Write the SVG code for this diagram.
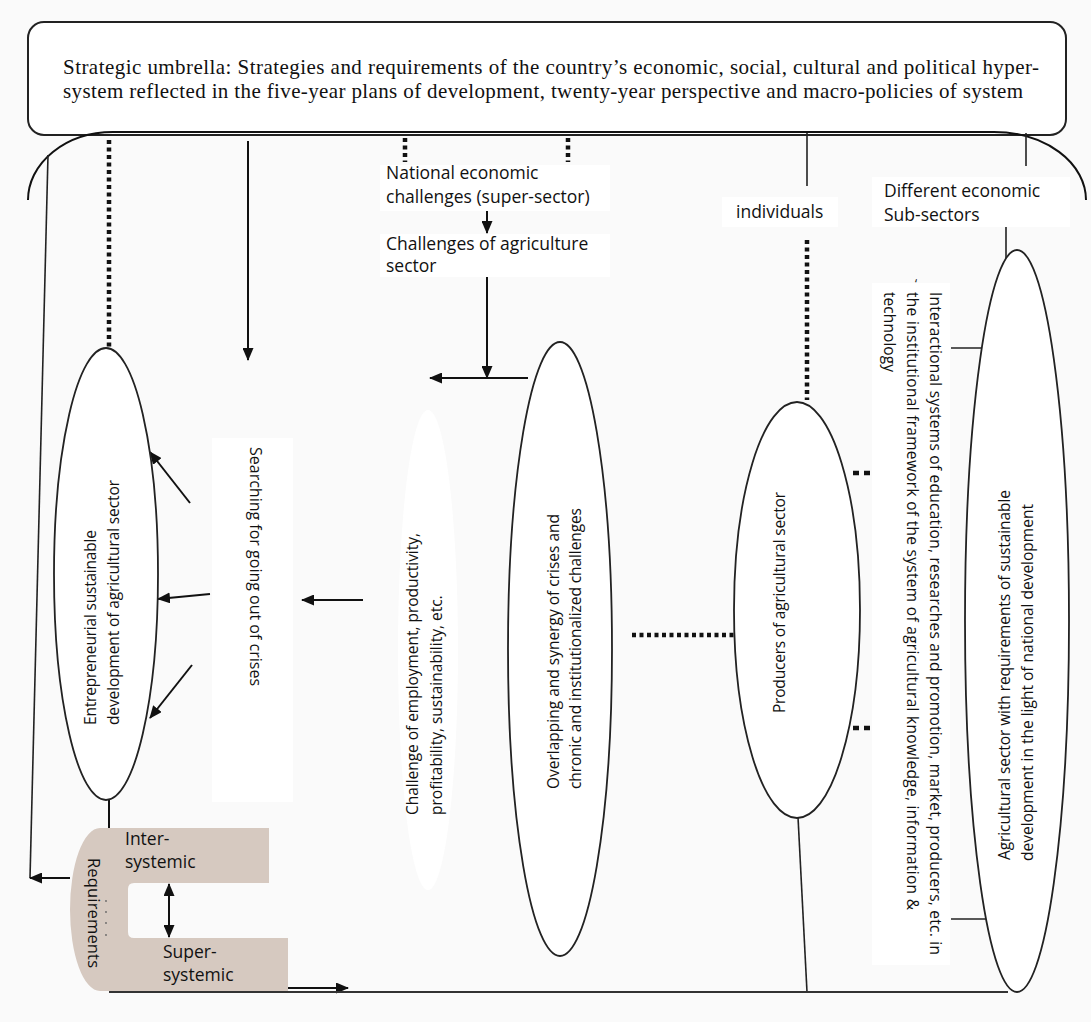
<svg xmlns="http://www.w3.org/2000/svg" width="1091" height="1022" viewBox="0 0 1091 1022">
<style>
.ln{stroke:#111;stroke-width:2;fill:none}
.thin{stroke:#222;stroke-width:1.6;fill:none}
.dot{stroke:#111;stroke-width:4.5;stroke-dasharray:4 3.5;fill:none}
.ell{fill:#fff;stroke:#222;stroke-width:1.8}
.box{fill:#fff;stroke:none}
.serif{font-family:"Liberation Serif","Times New Roman",serif;font-size:21px;fill:#111}
.sans{font-family:"Open Sans","Noto Sans",sans-serif;font-size:17.5px;fill:#111}
.rot{font-family:"Open Sans","Noto Sans",sans-serif;font-size:15.5px;fill:#111}
</style>
<defs>
<marker id="ah" markerUnits="userSpaceOnUse" markerWidth="13" markerHeight="11" refX="12" refY="5.5" orient="auto-start-reverse" viewBox="0 0 13 11">
<path d="M0,0 L13,5.5 L0,11 z" fill="#111"/>
</marker>
</defs>
<rect width="1091" height="1022" fill="#fafafa"/>

<g id="strategic-umbrella">
<rect x="28" y="22" width="1038" height="113" rx="16" fill="#fff" stroke="#222" stroke-width="2"/>
<text class="serif" x="63" y="74" textLength="976" lengthAdjust="spacing">Strategic umbrella: Strategies and requirements of the country’s economic, social, cultural and political hyper-</text>
<text class="serif" x="63" y="98" textLength="960" lengthAdjust="spacing">system reflected in the five-year plans of development, twenty-year perspective and macro-policies of system</text>
</g>

<g id="connectors">
<path class="ln" d="M28,200 A85,68 0 0 1 113,132 H994 A92,68 0 0 1 1086,200"/>
<line class="thin" x1="48" y1="155" x2="30" y2="878"/>
<line class="dot" x1="109" y1="140" x2="109" y2="350"/>
<line class="dot" x1="405" y1="138" x2="405" y2="162"/>
<line class="dot" x1="568" y1="138" x2="568" y2="162"/>
<line class="ln" x1="248" y1="141" x2="248" y2="360" marker-end="url(#ah)"/>
<line class="thin" x1="807" y1="133" x2="807" y2="186"/>
<line class="thin" x1="1026" y1="133" x2="1026" y2="166"/>
<line class="ln" x1="481" y1="207" x2="493" y2="207"/>
<line class="ln" x1="487" y1="207" x2="487" y2="233" marker-end="url(#ah)"/>
<line class="ln" x1="487" y1="277" x2="487" y2="378" marker-end="url(#ah)"/>
<line class="ln" x1="528" y1="378" x2="430" y2="378" marker-end="url(#ah)"/>
<line class="ln" x1="190" y1="503" x2="150" y2="452" marker-end="url(#ah)"/>
<line class="ln" x1="210" y1="594" x2="158" y2="599" marker-end="url(#ah)"/>
<line class="ln" x1="192" y1="665" x2="150" y2="718" marker-end="url(#ah)"/>
<line class="ln" x1="363" y1="600" x2="302" y2="600" marker-end="url(#ah)"/>
<line class="ln" x1="109" y1="793" x2="109" y2="840" marker-end="url(#ah)"/>
<line class="ln" x1="70" y1="878" x2="30" y2="878" marker-end="url(#ah)"/>
<line class="ln" x1="169" y1="884" x2="169" y2="937" marker-start="url(#ah)" marker-end="url(#ah)"/>
<line class="ln" x1="288" y1="988" x2="348" y2="988" marker-end="url(#ah)"/>
<line class="dot" x1="807" y1="240" x2="807" y2="400"/>
<line class="dot" x1="632" y1="635" x2="735" y2="635"/>
<line class="dot" x1="853" y1="473" x2="870" y2="473" style="stroke-dasharray:6 5"/>
<line class="dot" x1="853" y1="728" x2="870" y2="728" style="stroke-dasharray:6 5"/>
<line class="thin" x1="798" y1="817" x2="807" y2="992"/>
<line class="thin" x1="1006" y1="227" x2="1006" y2="259"/>
<line class="thin" x1="951" y1="348" x2="984" y2="348"/>
<line class="thin" x1="951" y1="919" x2="987" y2="919"/>
<line class="ln" x1="109" y1="992" x2="1008" y2="992" style="stroke:#333"/>
</g>

<g id="national-challenges">
<rect class="box" x="380" y="165" width="230" height="46"/>
<text class="sans" x="386" y="179">National economic</text>
<text class="sans" x="386" y="203">challenges (super-sector)</text>
</g>

<g id="agriculture-challenges">
<rect class="box" x="380" y="234" width="230" height="43"/>
<text class="sans" x="386" y="250">Challenges of agriculture</text>
<text class="sans" x="386" y="272">sector</text>
</g>

<g id="individuals">
<rect class="box" x="722" y="197" width="116" height="30"/>
<text class="sans" x="736" y="218">individuals</text>
</g>

<g id="sub-sectors">
<rect class="box" x="872" y="177" width="198" height="50"/>
<text class="sans" x="884" y="197">Different economic</text>
<text class="sans" x="884" y="221">Sub-sectors</text>
</g>

<g id="entrepreneurial">
<ellipse class="ell" cx="106" cy="574" rx="52" ry="226"/>
<text class="rot" transform="translate(96,725) rotate(-90)" textLength="195" lengthAdjust="spacing">Entrepreneurial sustainable</text>
<text class="rot" transform="translate(119,725) rotate(-90)" textLength="245" lengthAdjust="spacing">development of agricultural sector</text>
</g>

<g id="searching">
<rect class="box" x="212" y="438" width="81" height="364"/>
<text class="rot" style="font-size:16px" transform="translate(250,447) rotate(90)" textLength="239" lengthAdjust="spacing">Searching for going out of crises</text>
</g>

<g id="challenge-employment">
<ellipse cx="428" cy="650" rx="30" ry="240" fill="#fff"/>
<text class="rot" transform="translate(418,815) rotate(-90)" textLength="282" lengthAdjust="spacing">Challenge of employment, productivity,</text>
<text class="rot" transform="translate(442,815) rotate(-90)">profitability, sustainability, etc.</text>
</g>

<g id="overlapping">
<ellipse class="ell" cx="560" cy="649" rx="52" ry="307"/>
<text class="rot" transform="translate(559,789) rotate(-90)">Overlapping and synergy of crises and</text>
<text class="rot" transform="translate(581,789) rotate(-90)" textLength="281" lengthAdjust="spacing">chronic and institutionalized challenges</text>
</g>

<g id="producers">
<ellipse class="ell" cx="797" cy="610" rx="63" ry="208"/>
<text class="rot" transform="translate(785,713) rotate(-90)" textLength="221" lengthAdjust="spacing">Producers of agricultural sector</text>
</g>

<g id="interactional">
<rect class="box" x="872" y="283" width="78" height="682"/>
<text class="rot" style="font-size:12px" x="915" y="288">‘</text>
<text class="rot" transform="translate(930,292) rotate(90)" textLength="663" lengthAdjust="spacing">Interactional systems of education, researches and promotion, market, producers, etc. in</text>
<text class="rot" transform="translate(907,292) rotate(90)" textLength="618" lengthAdjust="spacing">the institutional framework of the system of agricultural knowledge, information &amp;</text>
<text class="rot" transform="translate(884,292) rotate(90)" textLength="80" lengthAdjust="spacing">technology</text>
</g>

<g id="agricultural-sector">
<ellipse class="ell" cx="1017" cy="621" rx="52" ry="371"/>
<text class="rot" transform="translate(1010,860) rotate(-90)" textLength="370" lengthAdjust="spacing">Agricultural sector with requirements of sustainable</text>
<text class="rot" transform="translate(1033,861) rotate(-90)">development in the light of national development</text>
</g>

<g id="requirements">
<path d="M100,828 H269 V883 H134 Q128,883 128,889 V932 Q128,938 134,938 H288 V991 H100 A30,81.5 0 0 1 100,828 Z" fill="#d6c9c0"/>
<circle cx="106" cy="901" r="0.9" fill="#666"/>
<circle cx="106" cy="912" r="0.9" fill="#666"/>
<circle cx="106" cy="923" r="0.9" fill="#666"/>
<circle cx="106" cy="935" r="0.9" fill="#666"/>
<text class="sans" x="125" y="845">Inter-</text>
<text class="sans" x="125" y="868">systemic</text>
<text class="sans" x="163" y="958">Super-</text>
<text class="sans" x="163" y="981">systemic</text>
<text class="sans" style="font-size:16.5px" transform="translate(88,858) rotate(90)" textLength="110" lengthAdjust="spacing">Requirements</text>
</g>
</svg>
